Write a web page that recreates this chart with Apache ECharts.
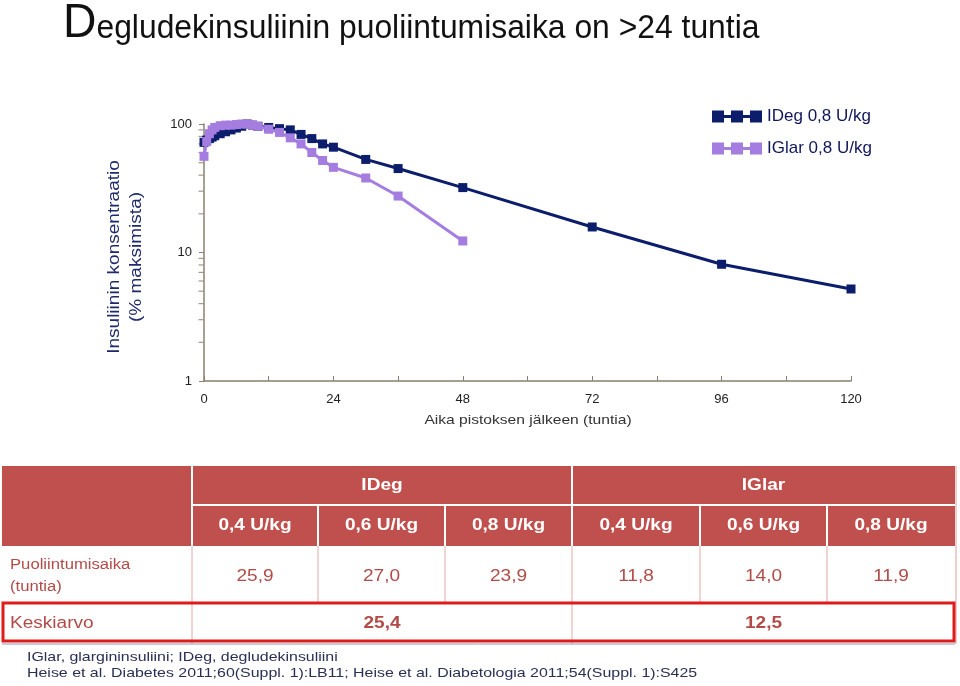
<!DOCTYPE html>
<html><head><meta charset="utf-8">
<script src="https://cdn.jsdelivr.net/npm/echarts@6/dist/echarts.min.js"></script>
<style>html,body{margin:0;padding:0;background:#fff}#c{width:960px;height:686px}</style>
</head><body><div id="c"></div>
<script>
// ---- data ----
const idegTimes = [0,0.5,1,1.5,2,3,4,5,6,7,8,9,10,12,14,16,18,20,22,24,30,36,48,72,96,120];
const idegValues = [72,75,77,79,81,84,87,90,93,96,100,98,96,94,92,90,83,77,70,66,53,45,32,15.8,8.1,5.2];
const iglarTimes = [0,0.5,1,1.5,2,3,4,5,6,7,8,9,10,12,14,16,18,20,22,24,30,36,48];
const iglarValues = [56,73,84,90,94,97,98,98,99,100,100,98,96,91,86,78,70,60,52,46,38,27.5,12.3];
const xTickLabels = [0,24,48,72,96,120];
const yTickLabels = [1,10,100];
const yMinorTicks = [2,3,4,5,6,7,8,9,20,30,40,50,60,70,80,90];
const seriesNames = ['IDeg 0,8 U/kg','IGlar 0,8 U/kg'];

const tableGroups = ['IDeg','IGlar'];
const tableDoses = ['0,4 U/kg','0,6 U/kg','0,8 U/kg','0,4 U/kg','0,6 U/kg','0,8 U/kg'];
const halfLives = ['25,9','27,0','23,9','11,8','14,0','11,9'];
const means = ['25,4','12,5'];
const rowLabelHalf = 'Puoliintumisaika\n(tuntia)';
const rowLabelMean = 'Keskiarvo';
const footnotes = ['IGlar, glargininsuliini; IDeg, degludekinsuliini',
  'Heise et al. Diabetes 2011;60(Suppl. 1):LB11; Heise et al. Diabetologia 2011;54(Suppl. 1):S425'];
const titleFirst = 'D';
const titleRest = 'egludekinsuliinin puoliintumisaika on >24 tuntia';
const xAxisTitle = 'Aika pistoksen jälkeen (tuntia)';
const yAxisTitle = ['Insuliinin konsentraatio','(% maksimista)'];

// ---- style ----
const NAVY = '#0b1d6b', LAV = '#a57de0', AXIS = '#8a806f', RED = '#c0504d', TXT_RED = '#b24b48';
const FONT = 'Liberation Sans, Arial, sans-serif';
const SX = 1.19; // horizontal stretch to mimic letter-spaced text

const chart = echarts.init(document.getElementById('c'));

// table graphics built from arrays
const colX = [2,192,318,445,572,700,827,955];
const rowY = [466,505,546,603,641];
const g = [];
g.push({type:'rect', shape:{x:colX[0],y:rowY[0],width:colX[7]-colX[0],height:rowY[2]-rowY[0]}, style:{fill:RED}});
g.push({type:'line', shape:{x1:colX[1],y1:rowY[1],x2:colX[7],y2:rowY[1]}, style:{stroke:'#fff',lineWidth:2}});
[1,4].forEach(i=>g.push({type:'line', shape:{x1:colX[i],y1:rowY[0],x2:colX[i],y2:rowY[2]}, style:{stroke:'#fff',lineWidth:2}}));
[2,3,5,6].forEach(i=>g.push({type:'line', shape:{x1:colX[i],y1:rowY[1],x2:colX[i],y2:rowY[2]}, style:{stroke:'#fff',lineWidth:2}}));
[1,2,3,4,5,6].forEach(i=>g.push({type:'line', shape:{x1:colX[i],y1:rowY[2],x2:colX[i],y2:rowY[3]}, style:{stroke:'#e2a9a7',lineWidth:1}}));
[1,4].forEach(i=>g.push({type:'line', shape:{x1:colX[i],y1:rowY[3],x2:colX[i],y2:rowY[4]+3}, style:{stroke:'#e2a9a7',lineWidth:1}}));
g.push({type:'line', shape:{x1:colX[0],y1:rowY[4]+3,x2:colX[7],y2:rowY[4]+3}, style:{stroke:'#8f98b0',lineWidth:1}});
g.push({type:'line', shape:{x1:colX[7]+1,y1:rowY[0],x2:colX[7]+1,y2:rowY[4]+3}, style:{stroke:'#d9a0a0',lineWidth:1}});
function txt(x,y,text,font,fill,align,extra){
  const e = {type:'text', x:x, y:y, scaleX:SX, style:Object.assign({text:text, fill:fill, font:font, align:align||'center', verticalAlign:'middle'}, extra||{})};
  g.push(e); return e;
}
tableGroups.forEach((t,i)=>txt((colX[1+i*3]+colX[4+i*3])/2,(rowY[0]+rowY[1])/2,t,'bold 16px '+FONT,'#fff'));
tableDoses.forEach((t,i)=>txt((colX[1+i]+colX[2+i])/2,(rowY[1]+rowY[2])/2,t,'bold 16px '+FONT,'#fff'));
halfLives.forEach((t,i)=>txt((colX[1+i]+colX[2+i])/2,(rowY[2]+rowY[3])/2+2,t,'16px '+FONT,TXT_RED));
means.forEach((t,i)=>txt((colX[1+i*3]+colX[4+i*3])/2,(rowY[3]+rowY[4])/2+2,t,'bold 16px '+FONT,TXT_RED));
txt(10,(rowY[2]+rowY[3])/2+2,rowLabelHalf,'14px '+FONT,TXT_RED,'left',{lineHeight:22});
txt(10,(rowY[3]+rowY[4])/2+2,rowLabelMean,'16px '+FONT,TXT_RED,'left');
g.push({type:'rect', shape:{x:3,y:rowY[3],width:951,height:rowY[4]-rowY[3]}, style:{fill:'none',stroke:'#e01b1b',lineWidth:3}});
footnotes.forEach((t,i)=>{ txt(27,657+i*16,t,'13px '+FONT,'#2a2f55','left',null).scaleX = 1.225; });
// axis titles
txt(528,420,xAxisTitle,'13px '+FONT,'#333','center').scaleX = 1.2;
yAxisTitle.forEach((t,i)=>{
  g.push({type:'text', x:115+i*22, y:257, rotation:Math.PI/2, scaleX:1.19, style:{text:t, fill:'#1f2a6b', font:'16px '+FONT, align:'center', verticalAlign:'middle'}});
});
// title
g.push({type:'text', x:63, y:48, scaleX:0.965, style:{
  text:'{b|'+titleFirst+'}{r|'+titleRest+'}', verticalAlign:'bottom', align:'left',
  rich:{
    b:{fontSize:48, fontFamily:FONT, fill:'#111', verticalAlign:'bottom'},
    r:{fontSize:33, fontFamily:FONT, fill:'#111', verticalAlign:'bottom', padding:[0,0,3,0]}
  }}});

const legendIcon = 'path://M0,0h12v12h-12z M12,4.5h7v3h-7z M19,0h12v12h-12z M31,4.5h7v3h-7z M38,0h12v12h-12z';

chart.setOption({
  animation:false,
  legend:{
    orient:'vertical', left:707, top:103, itemWidth:50, itemHeight:14, itemGap:15,
    data:seriesNames.map(n=>({name:n, icon:legendIcon})),
    textStyle:{fontSize:17, color:'#10165a', fontFamily:FONT}
  },
  grid:{left:204, right:109, top:124, bottom:305, containLabel:false},
  xAxis:{
    type:'value', min:0, max:120, interval:12,
    axisLine:{lineStyle:{color:AXIS, width:1.5}},
    axisTick:{inside:true, length:5, lineStyle:{color:AXIS}},
    axisLabel:{fontSize:13, color:'#222', margin:12, fontFamily:FONT,
      formatter:v=>xTickLabels.includes(v)?String(v):''},
    splitLine:{show:false}
  },
  yAxis:{
    type:'log', logBase:10, min:yTickLabels[0], max:yTickLabels[2],
    axisLine:{show:true, lineStyle:{color:AXIS, width:1.5}},
    axisTick:{show:true, length:5, lineStyle:{color:AXIS}},
    axisLabel:{fontSize:13, color:'#222', margin:12, fontFamily:FONT},
    splitLine:{show:false}
  },
  series:[
    {name:seriesNames[0], type:'line', data:idegTimes.map((t,i)=>[t,idegValues[i]]),
     symbol:'rect', symbolSize:9, color:NAVY, lineStyle:{width:3, color:NAVY}, itemStyle:{color:NAVY}, z:3},
    {name:seriesNames[1], type:'line', data:iglarTimes.map((t,i)=>[t,iglarValues[i]]),
     symbol:'rect', symbolSize:9, color:LAV, lineStyle:{width:3, color:LAV}, itemStyle:{color:LAV}, z:4},
    {name:'minorTicks', type:'scatter', data:yMinorTicks.map(v=>[0,v]), symbol:'rect',
     symbolSize:[5,1.2], symbolOffset:[-3,0], itemStyle:{color:AXIS}, silent:true, clip:false, z:1}
  ],
  graphic:g
});
</script></body></html>
